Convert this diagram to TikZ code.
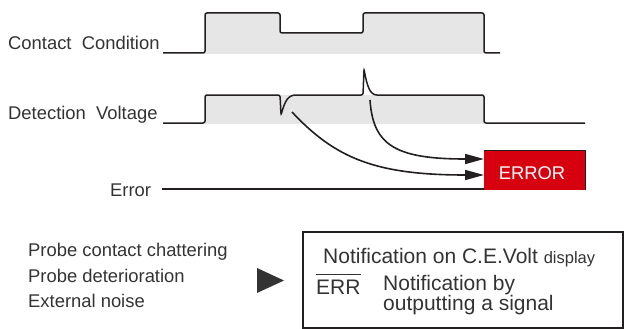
\documentclass[tikz,border=0pt]{standalone}
\usepackage{fontspec}
\setmainfont{Liberation Sans}
\usetikzlibrary{arrows.meta,calc}
\definecolor{ink}{HTML}{231F20}
\definecolor{txt}{HTML}{333333}
\definecolor{bgshade}{HTML}{E6E6E6}
\definecolor{errred}{HTML}{D7000F}
\tikzset{
  wave/.style={draw=ink, line width=1.5pt, rounded corners=2pt},
  lbl/.style={anchor=base west, inner sep=0pt, text=txt, font=\fontsize{18.4}{22}\selectfont},
  boxtxt/.style={anchor=base west, inner sep=0pt, text=txt, font=\fontsize{21}{25}\selectfont},
  flow/.style={draw=ink, line width=1.6pt, -{Triangle[length=19pt,width=10pt]}},
}
\begin{document}
\begin{tikzpicture}[x=1pt,y=-1pt]
\useasboundingbox (0,0) rectangle (624,329);
% ---------- Contact condition ----------
\fill[bgshade] (205,54) -- (205,13) -- (280,13) -- (280,33) -- (363,33) -- (363,13) -- (484,13) -- (484,54) -- cycle;
\draw[wave] (163,53) -- (205,53) -- (205,13) -- (280,13) -- (280,33) -- (363,33) -- (363,13) -- (484,13) -- (484,53) -- (500,53);
\node[lbl] (lcc) at (8,50) {Contact\ \ Condition};
% ---------- Detection voltage ----------
\fill[bgshade] (205,95) rectangle (484,124);
\draw[wave] (163,123) -- (205,123) -- (205,95) -- (280,95) -- (281,115)
  .. controls (285,101) and (288,95) .. (298,95) -- (363,95) -- (364,69)
  .. controls (367,86) and (370,95) .. (379,95) -- (484,95) -- (484,123) -- (585,123);
\node[lbl] (ldv) at (8,119) {Detection\ \ Voltage};
% ---------- Error line and box ----------
\node[lbl] (lerr) at (110,196) {Error};
\node[fill=errred, minimum width=101pt, minimum height=39pt, inner sep=0pt, anchor=south west] (errbox) at (484,190) {};
\draw[ink, line width=1pt] (errbox.north west) -- (errbox.north east) -- (errbox.south east);
\node[anchor=base, inner sep=0pt, text=white, font=\fontsize{18.4}{22}\selectfont] (errtxt) at (532,179) {ERROR};
\coordinate (errstart) at (162,189);
\draw[ink, line width=1.5pt] (errstart) -- (errbox.south west |- errstart);
% ---------- arrows ----------
\coordinate (spike) at (370,100);
\coordinate (dip) at (292,112);
\coordinate (tipA) at (484,159);
\coordinate (tipB) at (484,175);
\draw[flow] (spike) .. controls (373,145) and (395,159) .. (tipA);
\draw[flow] (dip) .. controls (335,158) and (375,175) .. (tipB);
% ---------- bottom ----------
\node[lbl] (c1) at (28,256) {Probe contact chattering};
\node[lbl] (c2) at (28,282) {Probe deterioration};
\node[lbl] (c3) at (28,307) {External noise};
\fill[txt] (257,268) -- (284,280.5) -- (257,293) -- cycle;
\draw[ink, line width=1.3pt] (303,232) rectangle (623,328);
\node[boxtxt] (n1) at (323,263) {Notification on C.E.Volt {\fontsize{16.5}{20}\selectfont display}};
\node[boxtxt] (err) at (316,294) {ERR};
\draw[txt, line width=1pt] ($(err.north west)+(0,-5)$) -- ($(err.north east)+(0,-5)$);
\node[boxtxt] (n2) at (383,290) {Notification by};
\node[boxtxt] (n3) at (383,310) {outputting a signal};
\end{tikzpicture}
\end{document}
